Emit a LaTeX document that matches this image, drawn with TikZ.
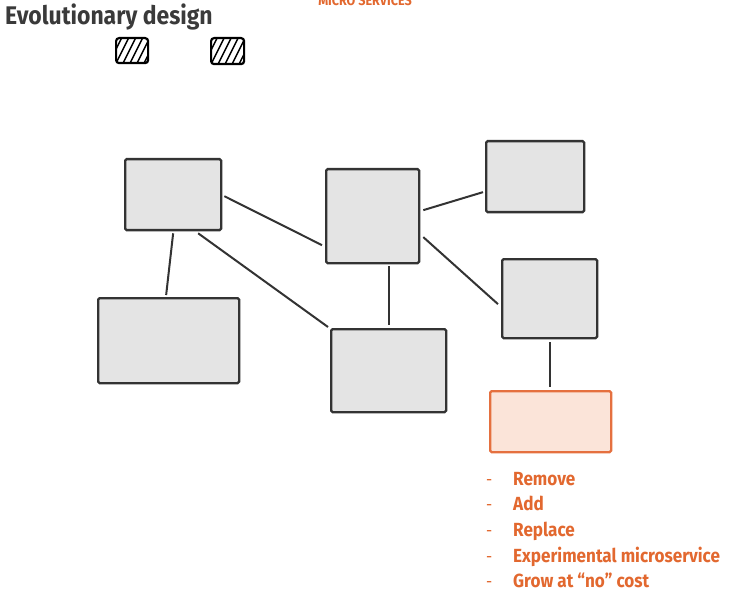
\documentclass[tikz,border=0pt]{standalone}
\usepackage{fontspec}
\newfontfamily\cond[FakeStretch=0.9]{Fira Sans}
\newfontfamily\condt[FakeStretch=0.9]{Fira Sans}
\usetikzlibrary{calc}
\definecolor{ink}{HTML}{333333}
\definecolor{titleink}{HTML}{3A3A3A}
\definecolor{boxfill}{HTML}{E4E4E4}
\definecolor{orng}{HTML}{E2682F}
\definecolor{orngline}{HTML}{E5703F}
\definecolor{orngfill}{HTML}{FBE4D9}
\tikzset{
  svc/.style={draw=ink, fill=boxfill, line width=2.3pt, rounded corners=1.5pt,
    inner sep=0pt, anchor=north west},
  newsvc/.style={svc, draw=orngline, fill=orngfill},
  conn/.style={draw=ink, line width=2pt},
  hatchbox/.style={draw=black, line width=2.2pt, rounded corners=3pt, inner sep=0pt,
    anchor=north west, fill=white,
    path picture={\foreach \i in {-4,...,5}{\draw[line width=1.5pt,black]
      ([xshift=\i*7pt]path picture bounding box.south west) -- ++(13pt,26pt);}}},
  item/.style={anchor=base west, text=orng, font=\cond\bfseries\fontsize{19}{22}\selectfont, inner sep=0pt},
  bullet/.style={anchor=base west, text=orng, font=\cond\fontsize{17}{20}\selectfont, inner sep=0pt}
}
\begin{document}
\begin{tikzpicture}[x=1pt,y=-1pt]
\useasboundingbox (0,0) rectangle (737,599);
% title
\node[anchor=base west, inner sep=0pt, text=titleink, font=\condt\bfseries\fontsize{25.5}{30}\selectfont] (title) at (5,24.5) {Evolutionary design};
\node[anchor=base, inner sep=0pt, text=orng, font=\cond\bfseries\fontsize{14}{16}\selectfont] (hdr) at (365,6) {MICRO SERVICES};
% hatched boxes
\node[hatchbox, minimum width=32pt, minimum height=25pt] (hA) at (115,37) {};
\node[hatchbox, minimum width=33pt, minimum height=26pt] (hB) at (210,37) {};
% services
\node[svc, minimum width=96pt, minimum height=71pt] (A) at (124,158) {};
\node[svc, minimum width=141pt, minimum height=85pt] (B) at (97,297) {};
\node[svc, minimum width=93pt, minimum height=94pt] (C) at (325,168) {};
\node[svc, minimum width=115pt, minimum height=83pt] (D) at (330,328) {};
\node[svc, minimum width=98pt, minimum height=71pt] (E) at (485,140) {};
\node[svc, minimum width=95pt, minimum height=79pt] (F) at (501,258) {};
\node[newsvc, minimum width=121pt, minimum height=61pt] (G) at (489,390) {};
% connectors
\draw[conn] ([xshift=2pt,yshift=-1.5pt]A.east) -- ([xshift=-3pt,yshift=-29pt]C.west);
\draw[conn] ([yshift=-2pt]A.south) -- ([xshift=-2.5pt,yshift=2pt]B.north);
\draw[conn] ([xshift=25pt,yshift=-2pt]A.south) -- ([xshift=-2pt,yshift=1pt]D.north west);
\draw[conn] ([xshift=16.5pt,yshift=-2pt]C.south) -- ([xshift=0.5pt,yshift=3pt]D.north);
\draw[conn] ([xshift=3pt,yshift=6pt]C.east) -- ([xshift=-2pt,yshift=-15.5pt]E.west);
\draw[conn] ([xshift=3pt,yshift=-21pt]C.east) -- ([xshift=-3pt,yshift=-5.5pt]F.west);
\draw[conn] ([xshift=0.5pt,yshift=-3pt]F.south) -- ([xshift=-0.5pt,yshift=3pt]G.north);
% list
\foreach \t [count=\k] in {Remove,Add,Replace,Experimental microservice,{Grow at “no” cost}}{
  \node[bullet] (d\k) at (486,{459.3+25.7*\k}) {-};
  \node[item] (t\k) at (513,{459.3+25.7*\k}) {\t};
}
\end{tikzpicture}
\end{document}
